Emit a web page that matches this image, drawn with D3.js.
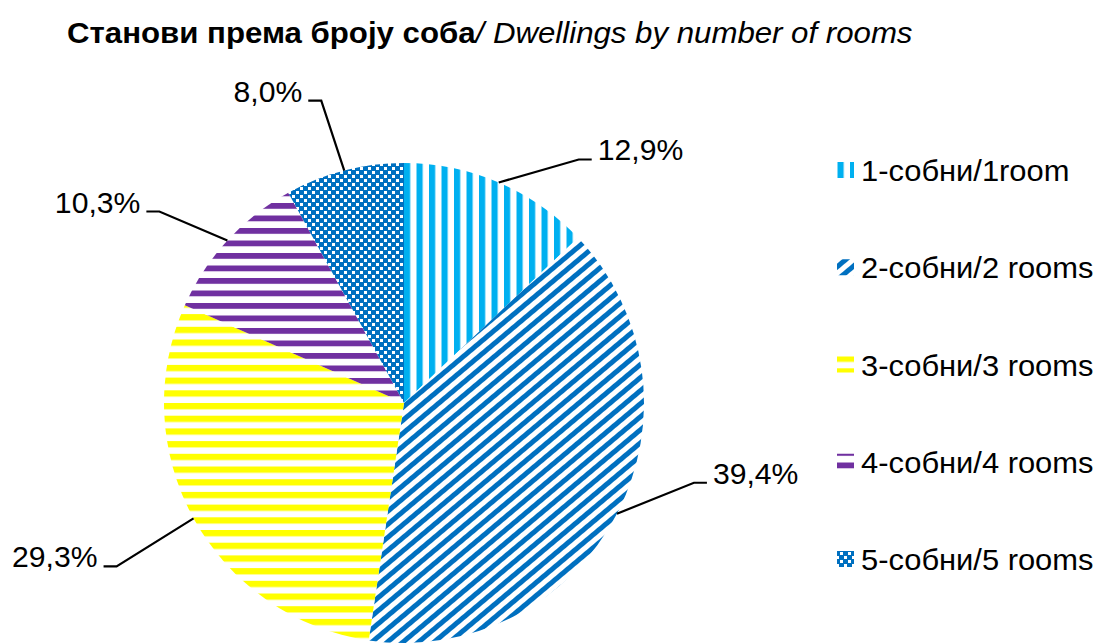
<!DOCTYPE html>
<html><head><meta charset="utf-8">
<script src="https://cdn.jsdelivr.net/npm/d3@7"></script>
<style>
html,body{margin:0;padding:0;background:#fff;}
text{font-family:"Liberation Sans",Arial,sans-serif;}
</style></head>
<body>
<svg id="chart" width="1099" height="644"></svg>
<script>
const categories = ["1-собни/1room", "2-собни/2 rooms", "3-собни/3 rooms", "4-собни/4 rooms", "5-собни/5 rooms"];
const values = [12.9, 39.4, 29.3, 10.3, 8.0];
const valueLabels = ["12,9%", "39,4%", "29,3%", "10,3%", "8,0%"];
const colors = ["#00B0F0", "#0070C0", "#FFFF00", "#7030A0", "#0070C0"];
const titleBold = "Станови према броју соба";
const titleItalic = "/ Dwellings by number of rooms";

const svg = d3.select("#chart");
const cx = 404, cy = 403, R = 240;
const SX = 1.065; // horizontal text stretch

// patterns
const defs = svg.append("defs");
let p = defs.append("pattern").attr("id","pat0").attr("patternUnits","userSpaceOnUse")
  .attr("width",12.5).attr("height",12.5);
p.append("rect").attr("width",12.5).attr("height",12.5).attr("fill","#fff");
p.append("rect").attr("x",0).attr("width",6.2).attr("height",12.5).attr("fill",colors[0]);
p = defs.append("pattern").attr("id","pat1").attr("patternUnits","userSpaceOnUse")
  .attr("width",10).attr("height",10).attr("patternTransform","rotate(50)");
p.append("rect").attr("width",10).attr("height",10).attr("fill","#fff");
p.append("rect").attr("width",5).attr("height",10).attr("fill",colors[1]);
p = defs.append("pattern").attr("id","pat2").attr("patternUnits","userSpaceOnUse")
  .attr("width",12.7).attr("height",12.7);
p.append("rect").attr("width",12.7).attr("height",12.7).attr("fill","#fff");
p.append("rect").attr("y",0).attr("width",12.7).attr("height",6.3).attr("fill",colors[2]);
p = defs.append("pattern").attr("id","pat3").attr("patternUnits","userSpaceOnUse")
  .attr("width",12.5).attr("height",12.5);
p.append("rect").attr("width",12.5).attr("height",12.5).attr("fill","#fff");
p.append("rect").attr("y",0).attr("width",12.5).attr("height",5.8).attr("fill",colors[3]);
p = defs.append("pattern").attr("id","pat4").attr("patternUnits","userSpaceOnUse")
  .attr("width",8).attr("height",8);
p.append("rect").attr("width",8).attr("height",8).attr("fill",colors[4]);
p.append("rect").attr("x",0).attr("y",0).attr("width",3).attr("height",3).attr("fill","#fff");
p.append("rect").attr("x",4).attr("y",4).attr("width",3).attr("height",3).attr("fill","#fff");

// title
const title = svg.append("text").attr("transform",`translate(67,43) scale(1.076,1)`)
  .attr("font-size",29).attr("fill","#000");
title.append("tspan").attr("font-weight","bold").text(titleBold);
title.append("tspan").attr("font-style","italic").text(titleItalic);

// pie
const pie = d3.pie().sort(null).value(d => d)(values);
const arc = d3.arc().innerRadius(0).outerRadius(R);
const g = svg.append("g").attr("transform",`translate(${cx},${cy})`);
g.selectAll("path").data(pie).join("path")
  .attr("d",arc).attr("fill",(d,i)=>`url(#pat${i})`);

// labels with leader lines
const labelOffsets = [
  {ex: 80, ey: -23, side: 1},
  {ex: 77, ey: -31, side: 1},
  {ex: -77, ey: 48, side: -1},
  {ex: -68, ey: -29, side: -1},
  {ex: -23, ey: -70, side: -1}
];
pie.forEach((d,i)=>{
  const a = (d.startAngle + d.endAngle)/2;
  const x0 = cx + R*Math.sin(a), y0 = cy - R*Math.cos(a);
  const o = labelOffsets[i];
  const x1 = x0 + o.ex, y1 = y0 + o.ey;
  const x2 = x1 + 13*o.side;
  svg.append("path").attr("d",`M${x0},${y0}L${x1},${y1}L${x2},${y1}`)
    .attr("fill","none").attr("stroke","#000").attr("stroke-width",2.2);
  svg.append("text").attr("transform",`translate(${x2 + 6*o.side},${y1 + 1}) scale(1.04,1)`)
    .attr("text-anchor",o.side>0?"start":"end")
    .attr("font-size",29).attr("fill","#000").text(valueLabels[i]);
});

// legend
const leg = svg.append("g");
const ly = d3.scalePoint().domain(categories).range([170,559]);
categories.forEach((c,i)=>{
  const y = ly(c);
  leg.append("rect").attr("x",837).attr("y",y-8).attr("width",17).attr("height",16)
    .attr("fill",`url(#pat${i})`);
  leg.append("text").attr("transform",`translate(861,${y+11}) scale(${SX},1)`)
    .attr("font-size",29).attr("fill","#000").text(c);
});
</script>
</body></html>
